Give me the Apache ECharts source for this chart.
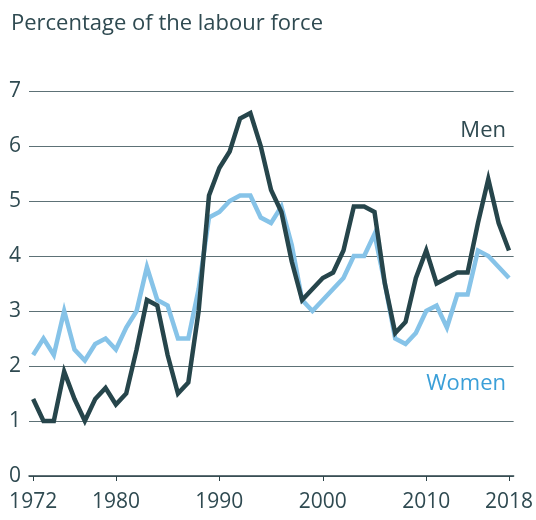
<!DOCTYPE html>
<html>
<head>
<meta charset="utf-8">
<script src="https://cdn.jsdelivr.net/npm/echarts@6/dist/echarts.min.js"></script>
<style>
  html, body { margin: 0; padding: 0; background: #fff; }
  #chart { width: 536px; height: 520px; }
</style>
</head>
<body>
<div id="chart"></div>
<script>
const years = []
for (let y = 1972; y <= 2018; y++) years.push(y)

const men = [
  1.4, 1.0, 1.0, 1.9, 1.4, 1.0, 1.4, 1.6, 1.3, 1.5,
  2.3, 3.2, 3.1, 2.2, 1.5, 1.7, 3.0, 5.1, 5.6, 5.9,
  6.5, 6.6, 6.0, 5.2, 4.8, 3.9, 3.2, 3.4, 3.6, 3.7,
  4.1, 4.9, 4.9, 4.8, 3.5, 2.6, 2.8, 3.6, 4.1, 3.5,
  3.6, 3.7, 3.7, 4.6, 5.4, 4.6, 4.1
]
const women = [
  2.2, 2.5, 2.2, 3.0, 2.3, 2.1, 2.4, 2.5, 2.3, 2.7,
  3.0, 3.8, 3.2, 3.1, 2.5, 2.5, 3.4, 4.7, 4.8, 5.0,
  5.1, 5.1, 4.7, 4.6, 4.9, 4.2, 3.2, 3.0, 3.2, 3.4,
  3.6, 4.0, 4.0, 4.4, 3.5, 2.5, 2.4, 2.6, 3.0, 3.1,
  2.7, 3.3, 3.3, 4.1, 4.0, 3.8, 3.6
]
const xTicks = [1972, 1980, 1990, 2000, 2010, 2018]

const textColor = '#2f4a51'
const font = '"Open Sans", "Noto Sans", sans-serif'

const chart = echarts.init(document.getElementById('chart'))

chart.setOption({
  animation: false,
  title: {
    text: 'Percentage of the labour force',
    left: 6,
    top: 8,
    textStyle: { color: textColor, fontSize: 22, fontWeight: 'normal', fontFamily: font }
  },
  grid: { left: 29, right: 22, top: 91, bottom: 44 },
  xAxis: {
    type: 'value',
    min: 1971.6,
    max: 2018.45,
    splitLine: { show: false },
    axisLine: { show: true, lineStyle: { color: '#2c4349', width: 1.5 } },
    axisTick: { show: true, customValues: xTicks, length: 5, lineStyle: { color: '#2c4349' } },
    axisLabel: {
      customValues: xTicks,
      color: textColor,
      fontSize: 21,
      fontFamily: font,
      margin: 16,
      formatter: (v) => String(v)
    }
  },
  yAxis: {
    type: 'value',
    min: 0,
    max: 7,
    interval: 1,
    axisLine: { show: false },
    axisTick: { show: false },
    splitLine: { lineStyle: { color: '#5d7176', width: 1 } },
    axisLabel: { color: textColor, fontSize: 21, fontFamily: font, margin: 8 }
  },
  series: [
    {
      name: 'Women',
      type: 'line',
      data: years.map((y, i) => [y, women[i]]),
      showSymbol: false,
      lineStyle: { color: '#86c3e8', width: 4.5, join: 'miter' },
      z: 2
    },
    {
      name: 'Men',
      type: 'line',
      data: years.map((y, i) => [y, men[i]]),
      showSymbol: false,
      lineStyle: { color: '#26454b', width: 4.5, join: 'miter' },
      z: 3
    }
  ],
  graphic: [
    {
      type: 'text',
      right: 30,
      top: 120,
      style: { text: 'Men', fill: textColor, font: '22px ' + font }
    },
    {
      type: 'text',
      right: 30,
      top: 373,
      style: { text: 'Women', fill: '#3a9fd8', font: '22px ' + font }
    }
  ]
})
</script>
</body>
</html>
